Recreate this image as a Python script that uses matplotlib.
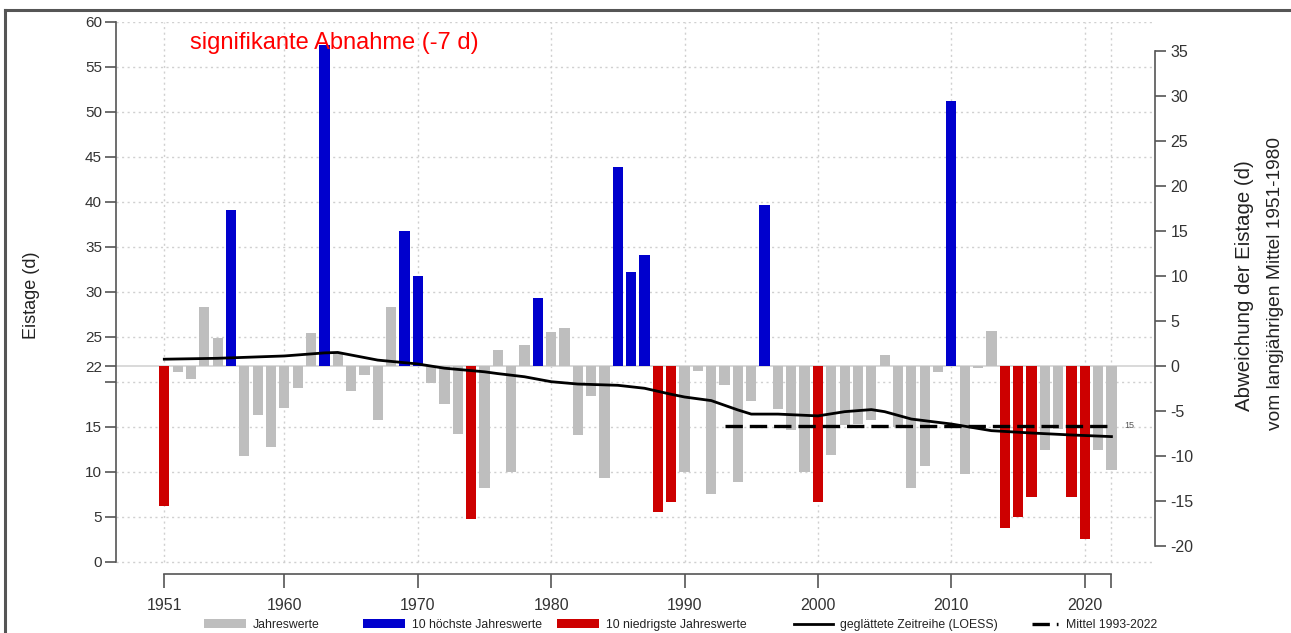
import numpy as np
import matplotlib
matplotlib.use("Agg")
import matplotlib.pyplot as plt
from matplotlib.patches import Patch
from matplotlib.lines import Line2D

plt.rcParams['font.family'] = ['Liberation Sans', 'DejaVu Sans']
plt.rcParams['lines.scale_dashes'] = False
plt.rcParams['axes.unicode_minus'] = False

# ---------------- data ----------------
years = list(range(1951, 2023))
eistage = [
    6.2, 21.1, 20.3, 28.3, 24.9, 39.1, 11.8, 16.3, 12.7, 17.1,   # 1951-1960
    19.3, 25.4, 57.4, 23.3, 19.0, 20.7, 15.7, 28.3, 36.7, 31.7,  # 1961-1970
    19.9, 17.5, 14.2, 4.7, 8.2, 23.5, 10.0, 24.1, 29.3, 25.5,    # 1971-1980
    26.0, 14.1, 18.4, 9.3, 43.9, 32.2, 34.1, 5.5, 6.6, 10.0,     # 1981-1990
    21.2, 7.5, 19.6, 8.9, 17.9, 39.6, 17.0, 14.6, 10.0, 6.6,     # 1991-2000
    11.9, 15.2, 15.3, 15.7, 23.0, 15.0, 8.2, 10.6, 21.1, 51.2,   # 2001-2010
    9.8, 21.5, 25.6, 3.7, 5.0, 7.2, 12.4, 14.8, 7.2, 2.5,        # 2011-2020
    12.4, 10.2,                                                  # 2021-2022
]
loess_years = [1951, 1955, 1960, 1963, 1964, 1967, 1970, 1972, 1975, 1976, 1978,
               1980, 1982, 1985, 1987, 1989, 1990, 1992, 1994, 1995, 1997, 2000,
               2002, 2004, 2005, 2007, 2010, 2013, 2016, 2019, 2022]
loess_vals = [22.5, 22.6, 22.86, 23.2, 23.25, 22.4, 21.97, 21.5, 21.1, 20.9, 20.55,
              20.0, 19.74, 19.6, 19.27, 18.6, 18.3, 17.9, 16.86, 16.4, 16.4, 16.2,
              16.67, 16.9, 16.67, 15.85, 15.3, 14.56, 14.3, 14.08, 13.9]
ref_period = (1951, 1980)
recent_period = (1993, 2022)
n_extreme = 10
title_text = "signifikante Abnahme (-7 d)"
xtick_years = [1951, 1960, 1970, 1980, 1990, 2000, 2010, 2020, 2022]
xtick_labels = ["1951", "1960", "1970", "1980", "1990", "2000", "2010", "2020", ""]
left_ticks = [0, 5, 10, 15, 20, 25, 30, 35, 40, 45, 50, 55, 60]
right_ticks = [-20, -15, -10, -5, 0, 5, 10, 15, 20, 25, 30, 35]
legend_labels = ["Jahreswerte", "10 höchste Jahreswerte", "10 niedrigste Jahreswerte",
                 "geglättete Zeitreihe (LOESS)", "Mittel 1993-2022"]

# ---------------- derived ----------------
yrs = np.array(years)
vals = np.array(eistage)
ref_mask = (yrs >= ref_period[0]) & (yrs <= ref_period[1])
baseline = vals[ref_mask].mean()
rec_mask = (yrs >= recent_period[0]) & (yrs <= recent_period[1])
recent_mean = vals[rec_mask].mean()

order = np.argsort(vals)
low_idx = set(order[:n_extreme])
high_idx = set(order[-n_extreme:])
GREY, BLUE, RED = "#BEBEBE", "#0000CD", "#CD0000"
colors = [RED if i in low_idx else BLUE if i in high_idx else GREY for i in range(len(vals))]

# ---------------- figure ----------------
W, H = 1291, 633
fig = plt.figure(figsize=(W / 100, H / 100), dpi=100)

def fx(px):
    return px / W

def fy(py):
    return 1 - py / H

ax_left, ax_right, ax_top, ax_bot = 116, 1155, 21.7, 574
ax = fig.add_axes([fx(ax_left), fy(ax_bot), fx(ax_right - ax_left), (ax_bot - ax_top) / H])
ppu = (561.7 - 21.7) / 60.0
ymin = -(ax_bot - 561.7) / ppu
ax.set_ylim(ymin, 60)
ppy = 13.34
ax.set_xlim(1951 - (164.3 - ax_left) / ppy, 1951 + (ax_right - 164.3) / ppy)

# grid
grid_col = "#D0D0D0"
for t in left_ticks:
    ax.axhline(t, color=grid_col, lw=1.0, ls=(0, (1.5, 2.5)), zorder=0)
ax.vlines(xtick_years, 0, 60, colors=grid_col, lw=1.0, linestyles=[(0, (1.5, 2.5))], zorder=0)
ax.axhline(baseline, color="#D3D3D3", lw=1.2, zorder=1)

# bars
ax.bar(yrs, vals - baseline, bottom=baseline, width=0.77, color=colors,
       edgecolor='none', zorder=2)

# LOESS + recent mean
ax.plot(loess_years, loess_vals, color="black", lw=2.0, zorder=4)
ax.plot([recent_period[0], recent_period[1]], [recent_mean, recent_mean],
        color="black", lw=2.4, dashes=(12.5, 5), zorder=4)
ax.text(recent_period[1] + 1.0, recent_mean, f"{recent_mean:.0f}", fontsize=6.5,
        color="#555555", va="center", ha="left")

# spines
axis_col = "#555555"
ax.spines['top'].set_visible(False)
ax.spines['right'].set_visible(False)
ax.spines['left'].set_bounds(0, 60)
ax.spines['bottom'].set_bounds(xtick_years[0], xtick_years[-1])
for s in ['left', 'bottom']:
    ax.spines[s].set_color(axis_col)
    ax.spines[s].set_linewidth(1.2)

lt = list(left_ticks) + [baseline]
ll = [str(t) if t != 20 else "" for t in left_ticks] + [f"{baseline:.0f}"]
ax.set_yticks(lt)
ax.set_yticklabels(ll)
ax.set_xticks(xtick_years)
ax.set_xticklabels(xtick_labels)
ax.tick_params(axis='y', direction='out', length=8, width=1.2, color=axis_col,
               labelsize=11, labelcolor="#333333", pad=2)
ax.tick_params(axis='x', direction='out', length=10, width=1.2, color=axis_col,
               labelsize=11.5, labelcolor="#333333", pad=7)

# right axis
ax2 = ax.twinx()
ax2.set_ylim(ymin - baseline, 60 - baseline)
for s in ['top', 'left', 'bottom']:
    ax2.spines[s].set_visible(False)
ax2.spines['right'].set_bounds(right_ticks[0], right_ticks[-1])
ax2.spines['right'].set_color(axis_col)
ax2.spines['right'].set_linewidth(1.2)
ax2.set_yticks(right_ticks)
ax2.tick_params(axis='y', direction='out', length=8, width=1.2, color=axis_col,
                labelsize=11.5, labelcolor="#333333", pad=3)

# texts
fig.text(fx(190), fy(43), title_text, color="#FF0000", fontsize=17, ha="left", va="center")
fig.text(fx(32), fy(295), "Eistage (d)", rotation=90, fontsize=13, color="#222222",
         ha="center", va="center")
fig.text(fx(1244), fy(286), "Abweichung der Eistage (d)", rotation=90, fontsize=14.7,
         color="#222222", ha="center", va="center")
fig.text(fx(1276), fy(283), "vom langjährigen Mittel 1951-1980", rotation=90, fontsize=13.8,
         color="#222222", ha="center", va="center")

# legend (separate entries)
leg_handles = [
    Patch(facecolor=GREY, edgecolor='none'),
    Patch(facecolor=BLUE, edgecolor='none'),
    Patch(facecolor=RED, edgecolor='none'),
    Line2D([], [], color="black", lw=2.0),
    Line2D([], [], color="black", lw=2.4, dashes=(12.5, 5)),
]
leg_x = [204, 363, 557, 794, 1032]
leg_len = [3.4, 3.4, 3.4, 3.2, 2.15]
for h, lab, xpx, hl in zip(leg_handles, legend_labels, leg_x, leg_len):
    lg = fig.legend([h], [lab], loc="center left", bbox_to_anchor=(fx(xpx), fy(625)),
                    frameon=False, fontsize=8.8, handlelength=hl, handleheight=0.7,
                    handletextpad=0.6, borderpad=0, borderaxespad=0)
    for t in lg.get_texts():
        t.set_color("#222222")

# outer frame (top and left)
fig.add_artist(Line2D([fx(5), fx(1291)], [fy(9.5), fy(9.5)], color="#555555", lw=2.2))
fig.add_artist(Line2D([fx(5), fx(5)], [fy(9.5), 0], color="#555555", lw=2.2))

fig.savefig("out.png", dpi=100)
